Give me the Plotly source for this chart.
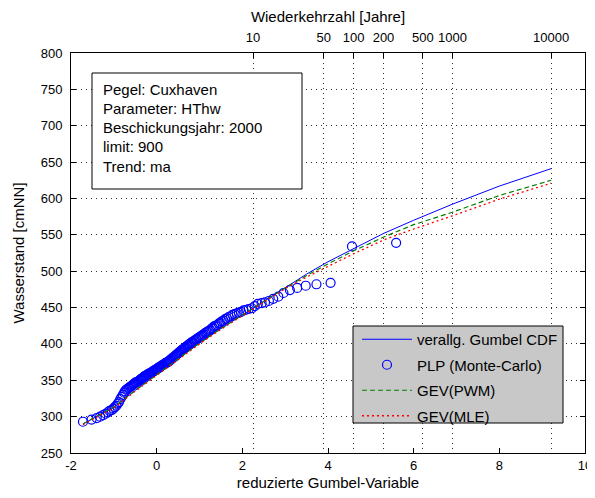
import numpy as np
import plotly.graph_objects as go

# ---------------- data ----------------
plp_x = [-1.72, -1.52, -1.40, -1.32, -1.25, -1.19, -1.14, -1.10, -1.05, -1.01,
         -0.98, -0.94, -0.91, -0.88, -0.85, -0.82, -0.79, -0.76, -0.74, -0.71,
         -0.69, -0.66, -0.64, -0.62, -0.59, -0.57, -0.55, -0.53, -0.51, -0.49,
         -0.47, -0.44, -0.42, -0.40, -0.38, -0.36, -0.35, -0.33, -0.31, -0.29,
         -0.27, -0.25, -0.23, -0.21, -0.19, -0.18, -0.16, -0.14, -0.12, -0.10,
         -0.08, -0.07, -0.05, -0.03, -0.01, 0.01, 0.03, 0.04, 0.06, 0.08,
         0.10, 0.12, 0.13, 0.15, 0.17, 0.19, 0.21, 0.23, 0.25, 0.26,
         0.28, 0.30, 0.32, 0.34, 0.36, 0.38, 0.40, 0.42, 0.44, 0.46,
         0.48, 0.50, 0.52, 0.54, 0.56, 0.58, 0.60, 0.62, 0.64, 0.66,
         0.68, 0.71, 0.73, 0.75, 0.77, 0.80, 0.82, 0.84, 0.87, 0.89,
         0.92, 0.94, 0.97, 0.99, 1.02, 1.05, 1.07, 1.10, 1.13, 1.16,
         1.19, 1.22, 1.25, 1.28, 1.31, 1.34, 1.38, 1.41, 1.45, 1.48,
         1.52, 1.56, 1.60, 1.64, 1.68, 1.73, 1.77, 1.82, 1.87, 1.92,
         1.97, 2.03, 2.09, 2.15, 2.22, 2.29, 2.36, 2.45, 2.53, 2.62,
         2.72, 2.84, 2.96, 3.11, 3.28, 3.48, 3.73, 4.06, 4.56, 5.59]
plp_y = [293, 296, 298, 300, 302, 304, 306, 308, 309, 311,
         313, 315, 318, 320, 324, 327, 330, 333, 335, 337,
         338, 339, 340, 341, 342, 343, 344, 345, 346, 347,
         347, 348, 349, 350, 351, 352, 352, 353, 354, 355,
         356, 356, 357, 358, 358, 359, 360, 360, 361, 362,
         362, 363, 364, 364, 365, 366, 366, 367, 368, 368,
         369, 370, 371, 371, 372, 373, 374, 374, 375, 375,
         376, 377, 378, 379, 380, 381, 382, 383, 384, 385,
         386, 387, 388, 389, 390, 391, 392, 393, 394, 395,
         396, 397, 398, 399, 400, 401, 402, 403, 404, 405,
         406, 407, 408, 409, 410, 411, 412, 413, 415, 416,
         417, 418, 419, 421, 422, 424, 425, 426, 428, 429,
         431, 432, 434, 435, 437, 438, 440, 441, 442, 443,
         444, 446, 447, 448, 449, 452, 455, 456, 457, 459,
         462, 465, 470, 474, 477, 480, 482, 484, 534, 539]

curve_x = [-1.72, -1.0, -0.5, 0.0, 0.5, 1.0, 1.5, 2.0, 2.5, 3.0, 3.5, 4.0, 4.6,
           5.3, 6.0, 6.9, 8.0, 9.21]
gumbel_cdf = [290, 313, 336, 358, 380, 401, 421, 440, 459, 478, 496, 513, 531,
              552, 570, 592, 617, 641]
gev_pwm = [290, 313, 336, 358, 380, 401, 421, 440, 459, 477, 494, 510, 528,
           547, 564, 581, 604, 625]
gev_mle = [289, 312, 335, 357, 379, 400, 420, 439, 458, 476, 492, 507, 524,
           543, 558, 576, 599, 621]

return_periods = [10, 50, 100, 200, 500, 1000, 10000]
y_ticks = [250, 300, 350, 400, 450, 500, 550, 600, 650, 700, 750, 800]
x_ticks = [-2, 0, 2, 4, 6, 8, 10]

info_lines = ["Pegel: Cuxhaven", "Parameter: HThw", "Beschickungsjahr: 2000",
              "limit: 900", "Trend: ma"]

# top axis positions: reduced Gumbel variate of the return period
top_pos = [-np.log(-np.log(1.0 - 1.0 / T)) for T in return_periods]

FONT = "Arial, Liberation Sans, sans-serif"
FS_TICK = 13
FS = 15

# page layout (the html body adds an 8 px offset); plot area spans
# page x 71..585 and page y 53..453
X0, X1, Y0, Y1 = 71, 585, 53, 453


def px(xp):
    return (xp - X0) / (X1 - X0)


def py(yp):
    return (Y1 - yp) / (Y1 - Y0)


fig = go.Figure()
fig.add_trace(go.Scatter(x=curve_x, y=gumbel_cdf, mode="lines",
                         name="verallg. Gumbel CDF", legendgroup="a",
                         line=dict(color="#0000ff", width=1)))
fig.add_trace(go.Scatter(x=plp_x, y=plp_y, mode="markers",
                         name="PLP (Monte-Carlo)", legendgroup="b",
                         marker=dict(symbol="circle-open", size=9,
                                     color="#0000ff", line=dict(width=1.2))))
fig.add_trace(go.Scatter(x=curve_x, y=gev_pwm, mode="lines",
                         name="GEV(PWM)", legendgroup="c",
                         line=dict(color="#008000", width=1.2, dash="5px,3px")))
fig.add_trace(go.Scatter(x=curve_x, y=gev_mle, mode="lines",
                         name="GEV(MLE)", legendgroup="d", xaxis="x2",
                         line=dict(color="#ff0000", width=1.3, dash="2px,3px")))

grid = dict(showgrid=True, gridcolor="#303030", gridwidth=1, griddash="1px,4px")

fig.update_layout(
    width=587, height=490,
    margin=dict(l=63, r=10, t=45, b=45),
    paper_bgcolor="white", plot_bgcolor="white",
    font=dict(family=FONT, size=FS_TICK, color="black"),
    xaxis=dict(range=[-2, 10], tickvals=x_ticks, ticktext=[str(v) for v in x_ticks],
               ticks="inside", ticklen=5, tickcolor="black", automargin=False,
               showline=True, linecolor="black", linewidth=1, mirror=True,
               showgrid=False, zeroline=False,
               title=dict(text="reduzierte Gumbel-Variable", standoff=5,
                          font=dict(size=FS))),
    xaxis2=dict(range=[-2, 10], overlaying="x", side="top", anchor="y",
                tickvals=top_pos, ticktext=[str(T) for T in return_periods],
                ticks="inside", ticklen=5, tickcolor="black", automargin=False,
                ticklabelstandoff=7,
                showline=False, zeroline=False,
                title=dict(text="Wiederkehrzahl [Jahre]", standoff=4,
                           font=dict(size=FS)),
                **grid),
    yaxis=dict(range=[250, 800], tickvals=y_ticks,
               ticks="inside", ticklen=5, tickcolor="black", automargin=False,
               ticklabelstandoff=5,
               showline=True, linecolor="black", linewidth=1, mirror="ticks",
               zeroline=False,
               title=dict(text="Wasserstand [cmNN]", standoff=12,
                          font=dict(size=FS)),
               **grid),
    showlegend=True,
    legend=dict(x=px(357), y=py(323), xanchor="left",
                yanchor="top", bgcolor="rgba(0,0,0,0)", borderwidth=0,
                traceorder="grouped", tracegroupgap=3, itemwidth=50,
                font=dict(family=FONT, size=FS, color="black")),
)

# opaque legend frame
fig.add_shape(type="rect", xref="paper", yref="paper",
              x0=px(353), x1=px(563), y0=py(423), y1=py(326),
              fillcolor="#c8c8c8", line=dict(color="black", width=1),
              layer="above")
# info box
fig.add_shape(type="rect", xref="paper", yref="paper",
              x0=px(92), x1=px(302), y0=py(189), y1=py(73),
              fillcolor="white", line=dict(color="black", width=1),
              layer="above")
for i, t in enumerate(info_lines):
    fig.add_annotation(xref="paper", yref="paper",
                       x=px(101), y=py(89.3 + 19.2 * i),
                       xanchor="left", yanchor="middle", text=t,
                       showarrow=False, font=dict(family=FONT, size=FS))

fig.write_html("out.html")
